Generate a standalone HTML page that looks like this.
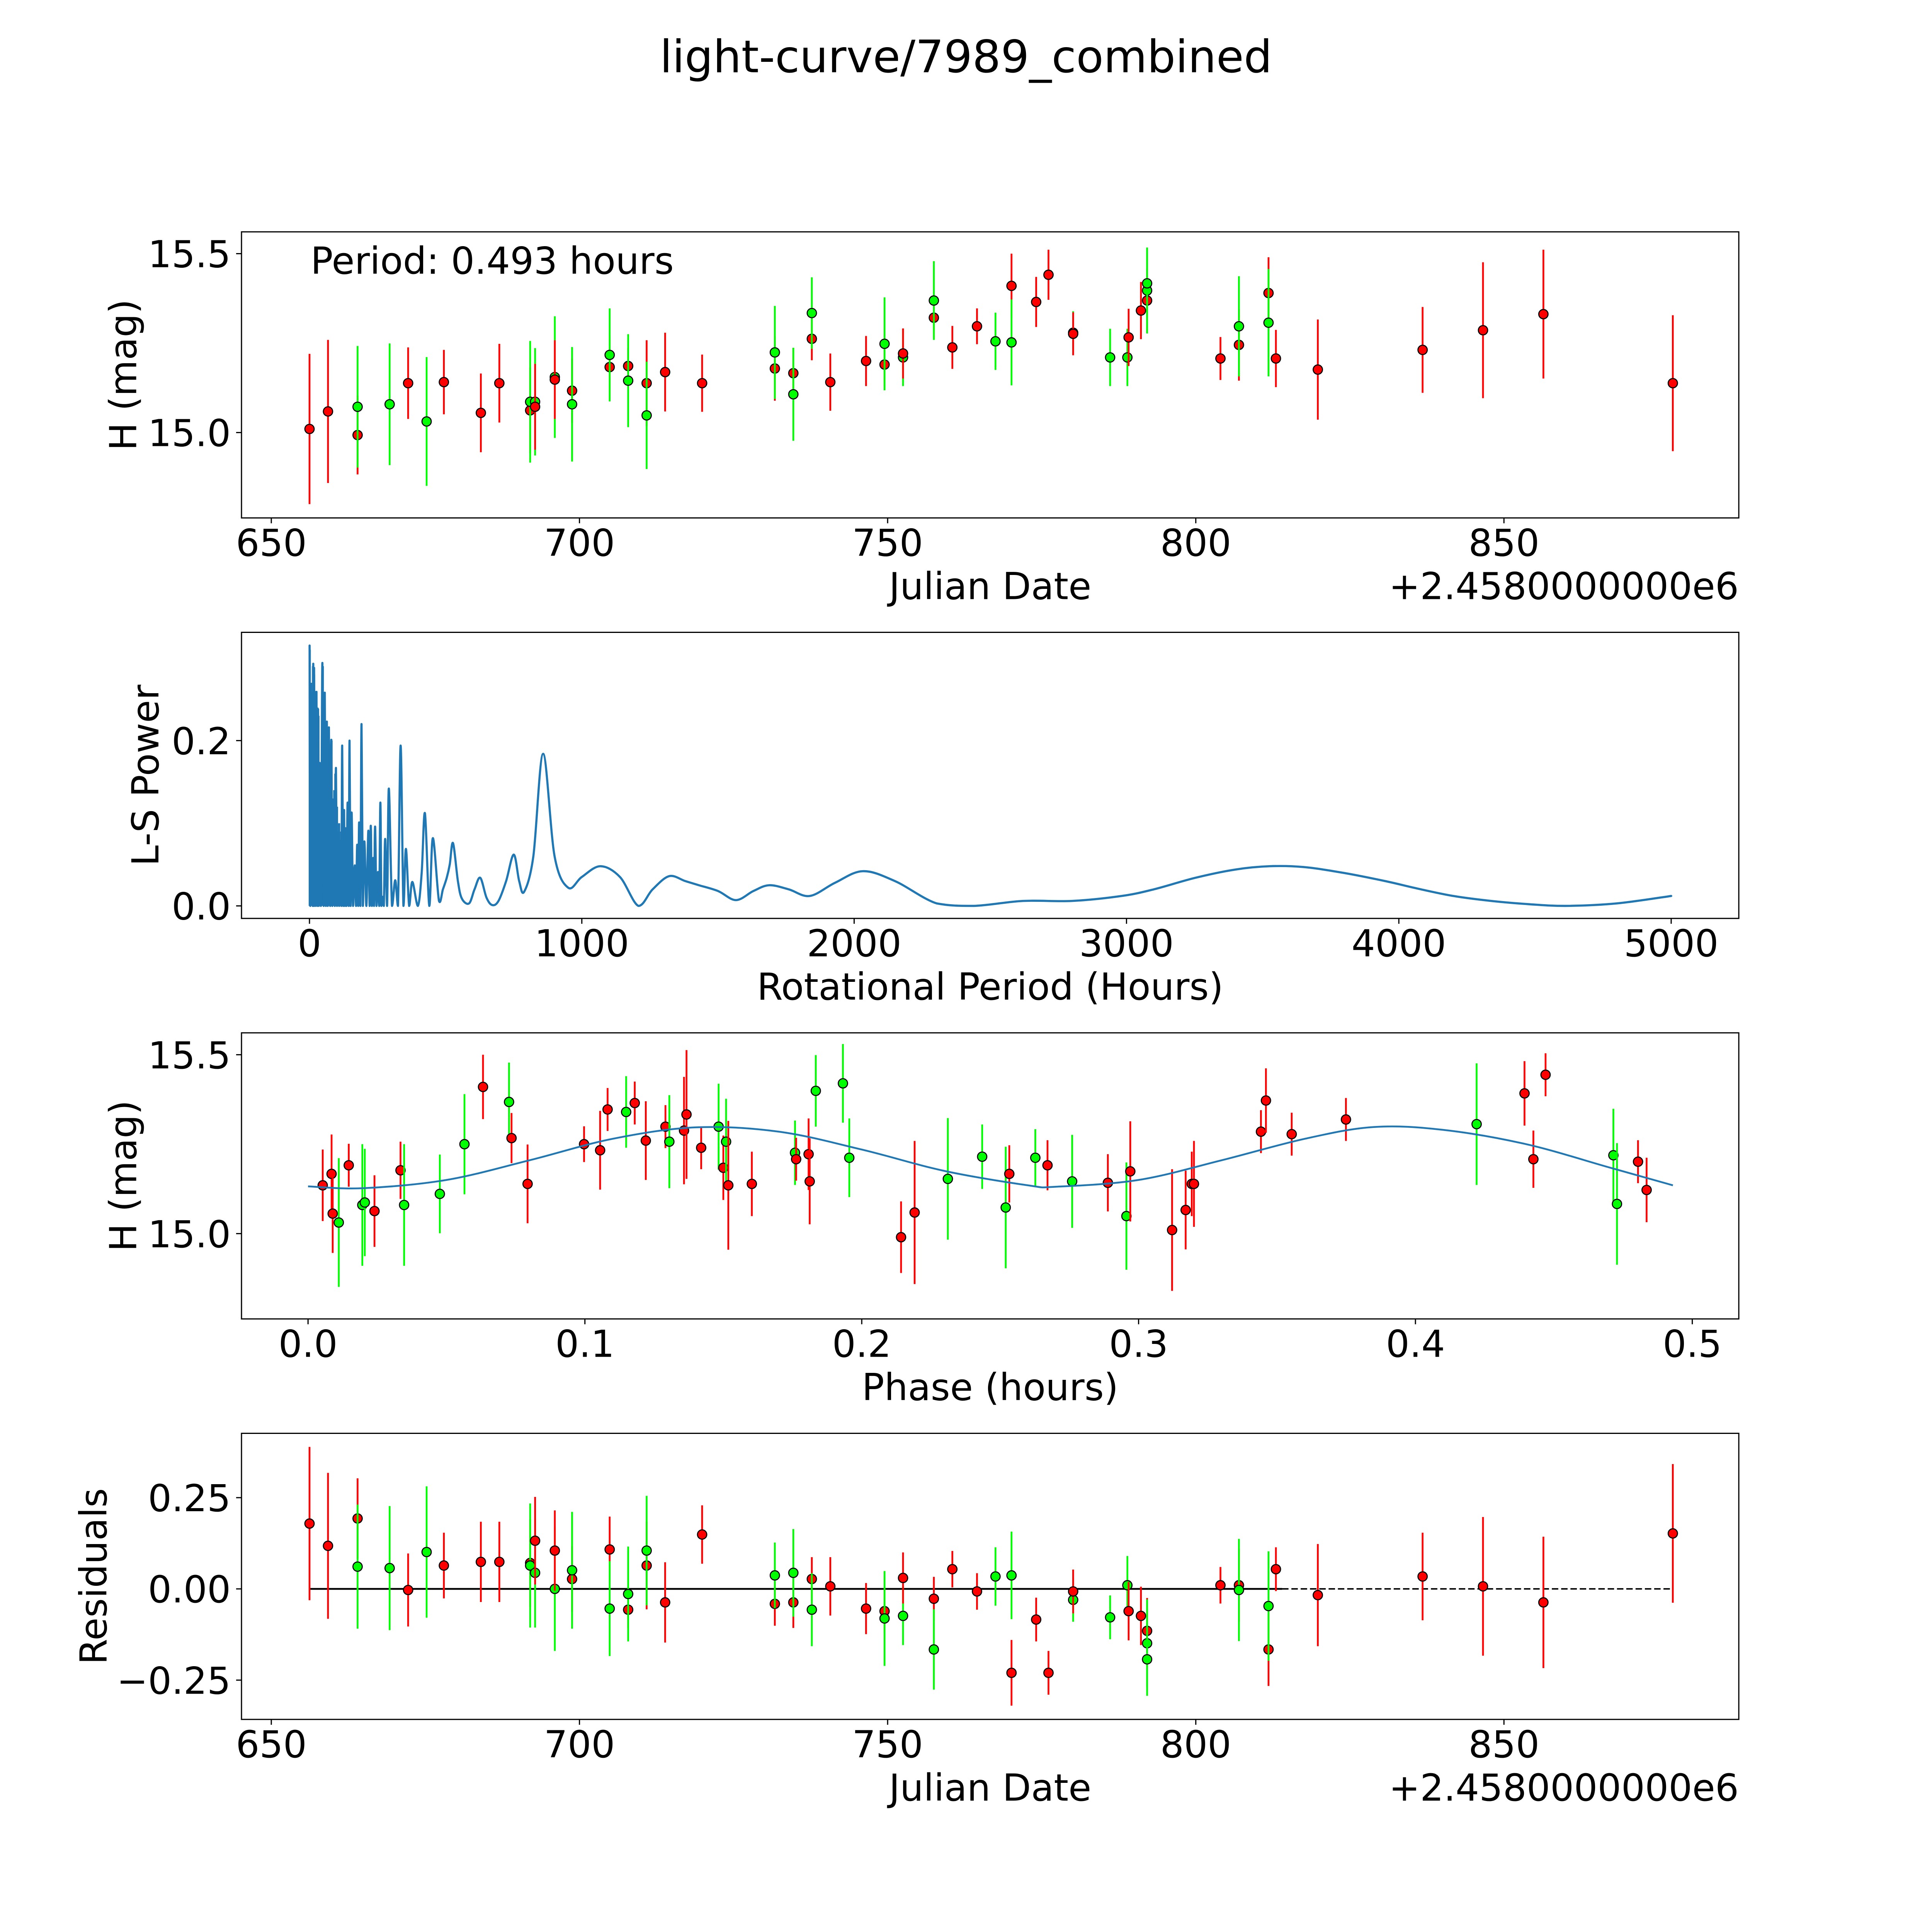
<!DOCTYPE html>
<html><head><meta charset="utf-8"><style>
html,body{margin:0;padding:0;background:#fff;overflow:hidden;width:100%;height:100%;}
svg{display:block;width:100vw;height:100vh;font-family:"DejaVu Sans","Liberation Sans",sans-serif;}
</style></head><body>
<svg id="fig" xmlns="http://www.w3.org/2000/svg" viewBox="0 0 5400 5400" preserveAspectRatio="xMidYMid meet">
<rect x="0" y="0" width="5400" height="5400" fill="#fff"/>
<text x="2700" y="202" font-size="125" text-anchor="middle">light-curve/7989_combined</text>
</svg>
<script>
// ---------- Panel 1 / 4 data (dates offset from 2458000) ----------
const dates = [656.2,659.2,664.0,664.0,669.2,672.2,675.2,678.0,684.0,687.0,692.0,692.0,692.8,692.8,696.0,696.0,698.8,698.8,704.9,704.9,707.9,707.9,710.9,710.9,713.9,719.9,731.7,731.7,734.7,734.7,737.7,737.7,740.7,746.5,749.5,749.5,752.5,752.5,757.5,757.5,760.5,764.5,767.5,770.1,770.1,774.1,776.1,780.1,780.1,786.1,788.9,789.1,791.1,792.1,792.1,792.1,804.0,807.0,807.0,811.8,811.8,813.0,819.8,836.8,846.6,856.4,877.4];
const mags = [15.010,15.059,14.993,15.072,15.079,15.138,15.031,15.141,15.055,15.138,15.062,15.086,15.086,15.072,15.155,15.148,15.117,15.079,15.183,15.217,15.186,15.145,15.138,15.048,15.169,15.138,15.179,15.224,15.166,15.107,15.262,15.334,15.141,15.200,15.190,15.248,15.210,15.221,15.321,15.369,15.238,15.297,15.255,15.410,15.252,15.365,15.441,15.279,15.276,15.210,15.210,15.266,15.341,15.369,15.397,15.417,15.207,15.245,15.297,15.390,15.307,15.207,15.176,15.231,15.286,15.331,15.138];
const errs = [0.21,0.20,0.11,0.17,0.17,0.10,0.18,0.09,0.11,0.11,0.12,0.17,0.15,0.12,0.17,0.11,0.09,0.16,0.09,0.13,0.05,0.13,0.12,0.15,0.11,0.08,0.09,0.13,0.07,0.13,0.06,0.10,0.08,0.07,0.06,0.13,0.08,0.07,0.06,0.11,0.06,0.05,0.08,0.09,0.12,0.07,0.07,0.06,0.06,0.08,0.08,0.08,0.08,0.09,0.12,0.10,0.06,0.10,0.14,0.10,0.15,0.08,0.14,0.12,0.19,0.18,0.19];
const filters = ['r','r','r','g','g','r','g','r','r','r','r','g','g','r','g','r','r','g','r','g','r','g','r','g','r','r','r','g','r','g','r','g','r','r','r','g','g','r','r','g','r','r','g','r','g','r','r','g','r','g','g','r','r','r','g','g','r','r','g','r','g','r','r','r','r','r','r'];
const residuals = [0.179,0.118,0.193,0.061,0.057,-0.003,0.101,0.064,0.074,0.074,0.071,0.064,0.044,0.132,0.0,0.105,0.027,0.051,0.108,-0.054,-0.057,-0.014,0.064,0.105,-0.037,0.149,-0.041,0.037,-0.037,0.044,0.027,-0.057,0.007,-0.054,-0.061,-0.081,-0.074,0.030,-0.027,-0.166,0.054,-0.007,0.034,-0.230,0.037,-0.084,-0.230,-0.030,-0.007,-0.078,0.010,-0.061,-0.074,-0.115,-0.149,-0.193,0.010,0.010,-0.003,-0.166,-0.047,0.054,-0.017,0.034,0.007,-0.037,0.152];
const residErrs = [0.21,0.20,0.11,0.17,0.17,0.10,0.18,0.09,0.11,0.11,0.12,0.17,0.15,0.12,0.17,0.11,0.09,0.16,0.09,0.13,0.05,0.13,0.12,0.15,0.11,0.08,0.06,0.09,0.07,0.12,0.06,0.10,0.08,0.07,0.06,0.13,0.08,0.07,0.06,0.11,0.05,0.05,0.08,0.09,0.12,0.06,0.06,0.06,0.06,0.06,0.08,0.08,0.08,0.09,0.12,0.10,0.05,0.10,0.14,0.10,0.15,0.06,0.14,0.12,0.19,0.18,0.19];
const zeroLineSolidEnd = 814;
// ---------- Panel 2 periodogram ----------
const lsPeriods = [0.4,3,9.8,12,13.9,15.4,16.9,21,25.7,28,31.5,34,37.4,42,47.4,52,56.2,60,63.8,67,71.4,76,80.2,84,88.4,93,97.2,101,104.8,109,113,117,120.1,124,127.1,130,132.4,136,140,144,147.1,151,154.7,160,166.4,171,175.2,179,182.3,187,191.1,196,201.6,209,216.3,221,225.1,229,233.9,237,240.9,246,251.5,256,260.3,264,267.9,273,277.9,285,291.4,303,314.8,325,334.7,345,354.1,366,377.6,398,412,424,440,453,475.5,490,504,515,527,545,559.4,586,606,627,650,671,694,722,750,770,788,822,858,900,950,1000,1068,1140,1208,1260,1321,1380,1430,1500,1566,1630,1688,1760,1837,1930,2032,2150,2303,2440,2620,2800,2982,3100,3253,3400,3525,3650,3796,3950,4068,4200,4339,4480,4611,4800,5000];
const lsPower = [0.315,0,0.257,0,0.293,0,0.288,0,0.259,0,0.238,0,0.173,0,0.294,0,0.258,0,0.223,0,0.216,0,0.201,0,0.109,0,0.167,0,0.075,0,0.077,0,0.194,0,0.116,0,0.094,0,0.125,0,0.200,0,0.113,0,0.049,0,0.074,0,0.101,0,0.220,0,0.078,0,0.091,0,0.097,0,0.058,0,0.096,0,0.041,0,0.125,0,0.011,0,0.081,0,0.142,0,0.031,0,0.194,0,0.069,0,0.029,0,0.04,0.112,0,0.082,0.006,0.02,0.034,0.05,0.076,0.03,0.009,0.003,0.02,0.034,0.01,0.001,0.006,0.03,0.062,0.03,0.017,0.06,0.184,0.06,0.022,0.035,0.048,0.035,0,0.02,0.036,0.03,0.025,0.018,0.007,0.018,0.025,0.02,0.012,0.028,0.042,0.03,0.003,0,0.006,0.006,0.012,0.02,0.034,0.044,0.048,0.047,0.040,0.03,0.021,0.012,0.006,0.002,0,0.003,0.012];
// dense low-period fill (periods, peak powers) — the tightly-packed aliasing region
const densePeriods = [1,3,5,7,9,11,13,15,17,19,21,23,25,27,29,31,33,35,37,39,41,43,45,47,49,51,53,55,57,59,61,63,65,67,69,71,73,75,77,79,81,83,85,87,89,91,93,95,97,99,101,103,105,107,109,111,113,115,117,119];
const densePower = [0.31,0.2,0.27,0.15,0.25,0.22,0.29,0.18,0.28,0.24,0.2,0.16,0.26,0.21,0.24,0.19,0.23,0.17,0.17,0.14,0.12,0.16,0.13,0.22,0.29,0.2,0.18,0.25,0.2,0.16,0.22,0.2,0.18,0.21,0.15,0.2,0.17,0.12,0.19,0.15,0.2,0.12,0.1,0.13,0.1,0.14,0.12,0.16,0.11,0.08,0.12,0.07,0.09,0.06,0.1,0.07,0.08,0.06,0.09,0.05];
// ---------- Panel 3 phase-folded ----------
const phases = [0.0053,0.0085,0.0089,0.0111,0.0147,0.0196,0.0205,0.024,0.0334,0.0347,0.0476,0.0565,0.0632,0.0726,0.0735,0.0793,0.0997,0.1055,0.1082,0.1149,0.118,0.122,0.1291,0.1305,0.1358,0.1367,0.142,0.1483,0.15,0.151,0.1518,0.1603,0.1759,0.1763,0.1808,0.1812,0.1834,0.1932,0.1955,0.2142,0.2191,0.2311,0.2435,0.252,0.2533,0.2627,0.2671,0.276,0.2889,0.2956,0.297,0.3121,0.317,0.3192,0.32,0.3442,0.346,0.3553,0.3749,0.4221,0.4394,0.4426,0.447,0.4715,0.4728,0.4804,0.4835];
const phaseMags = [15.135,15.167,15.056,15.031,15.191,15.080,15.087,15.063,15.177,15.080,15.111,15.250,15.410,15.368,15.267,15.139,15.250,15.233,15.347,15.340,15.365,15.260,15.299,15.257,15.288,15.333,15.240,15.299,15.184,15.257,15.135,15.139,15.226,15.208,15.222,15.146,15.399,15.420,15.212,14.990,15.059,15.153,15.215,15.073,15.167,15.212,15.191,15.146,15.142,15.049,15.174,15.010,15.066,15.139,15.139,15.285,15.372,15.278,15.319,15.306,15.392,15.208,15.444,15.219,15.083,15.201,15.122];
const phaseErrs = [0.10,0.11,0.11,0.18,0.06,0.17,0.15,0.10,0.08,0.17,0.11,0.14,0.09,0.11,0.07,0.11,0.05,0.11,0.06,0.10,0.06,0.11,0.06,0.13,0.15,0.18,0.06,0.12,0.09,0.12,0.18,0.09,0.09,0.06,0.10,0.12,0.10,0.11,0.11,0.10,0.20,0.17,0.09,0.17,0.08,0.08,0.07,0.13,0.08,0.15,0.14,0.17,0.11,0.09,0.12,0.06,0.09,0.06,0.06,0.17,0.09,0.08,0.06,0.13,0.17,0.06,0.09];
const phaseFilters = ['r','r','r','g','r','g','g','r','r','g','g','g','r','g','r','r','r','r','r','g','r','r','r','g','r','r','r','g','r','g','r','r','g','r','r','r','g','g','g','r','r','g','g','g','r','g','r','g','r','g','r','r','r','r','r','r','r','r','r','g','r','r','r','g','g','r','r'];
const modelPhase = [0,0.02,0.05,0.08,0.11,0.14,0.17,0.2,0.23,0.26,0.27,0.3,0.33,0.36,0.385,0.41,0.44,0.47,0.493];
const modelMag = [15.132,15.127,15.150,15.205,15.265,15.297,15.285,15.235,15.175,15.135,15.131,15.150,15.205,15.265,15.298,15.290,15.250,15.185,15.135];
const dateTicks = [650,700,750,800,850];
const magTicks = [15.0,15.5];
const magTickLabels = ['15.0','15.5'];
const lsXTicks = [0,1000,2000,3000,4000,5000];
const lsYTicks = [0.0,0.2];
const lsYTickLabels = ['0.0','0.2'];
const phaseTicks = [0.0,0.1,0.2,0.3,0.4,0.5];
const phaseTickLabels = ['0.0','0.1','0.2','0.3','0.4','0.5'];
const residTicks = [-0.25,0,0.25];
const residTickLabels = ['\u22120.25','0.00','0.25'];

const NS = 'http://www.w3.org/2000/svg';
const svg = document.getElementById('fig');
function mk(tag, attrs, parent){ const e=document.createElementNS(NS,tag); for(const k in attrs) e.setAttribute(k,attrs[k]); (parent||svg).appendChild(e); return e; }
const L=675, R=4860, AH=799.6;
const tops=[648,1767.4,2886.8,4006.2];
const FS=104;
const COL={r:'#ff0000',g:'#00ff00'};
function lin(d0,d1,p0,p1){ return v => p0+(v-d0)*(p1-p0)/(d1-d0); }

function axesFrame(top,name){
  const g=mk('g',{});
  
  
  const clip=mk('clipPath',{id:'clip-'+name},g);
  mk('rect',{x:L,y:top,width:R-L,height:AH},clip);
  const plot=mk('g',{'clip-path':'url(#clip-'+name+')'},g);
  
  
  return {g,plot,top,bottom:top+AH};
}
function spines(ax){
  const r=mk('rect',{x:L,y:ax.top,width:R-L,height:AH,fill:'none',stroke:'#000','stroke-width':3.3},ax.g);
  
  
}
function xTicks(ax,vals,labels,sx){
  vals.forEach((v,i)=>{
    const x=sx(v);
    const t=mk('line',{x1:x,x2:x,y1:ax.bottom,y2:ax.bottom+15,stroke:'#000','stroke-width':3.3},ax.g);
    
    
    const tx=mk('text',{x:x,y:ax.bottom+106,'font-size':FS,'text-anchor':'middle'},ax.g);
    tx.textContent=labels[i];
    
    
  });
}
function yTicks(ax,vals,labels,sy){
  vals.forEach((v,i)=>{
    const y=sy(v);
    const t=mk('line',{x1:L-15,x2:L,y1:y,y2:y,stroke:'#000','stroke-width':3.3},ax.g);
    
    
    const tx=mk('text',{x:L-30,y:y+38,'font-size':FS,'text-anchor':'end'},ax.g);
    tx.textContent=labels[i];
    
    
  });
}
function xLabel(ax,txt,name){
  const t=mk('text',{x:(L+R)/2,y:ax.bottom+227,'font-size':FS,'text-anchor':'middle'},ax.g);
  t.textContent=txt;
  
  
}
function yLabel(ax,txt,cx,name){
  const cy=ax.top+AH/2;
  const t=mk('text',{x:cx,y:cy,'font-size':FS,'text-anchor':'middle','dominant-baseline':'central',transform:'rotate(-90 '+cx+' '+cy+')'},ax.g);
  t.textContent=txt;
  
  
}
function offsetText(ax){
  const t=mk('text',{x:R,y:ax.bottom+227,'font-size':FS,'text-anchor':'end'},ax.g);
  t.textContent='+2.4580000000e6';
  
  
}
function errPoint(parent,x,y,yTop,yBot,c){
  const b=mk('line',{x1:x,x2:x,y1:yTop,y2:yBot,stroke:COL[c],'stroke-width':5},parent);
  
  
  const p=mk('circle',{cx:x,cy:y,r:13,fill:COL[c],stroke:'#000','stroke-width':3},parent);
  
  
}
function smoothPath(pts,yMax){
  let d='M'+pts[0][0]+','+pts[0][1];
  for(let i=0;i<pts.length-1;i++){
    const p0=pts[Math.max(0,i-1)],p1=pts[i],p2=pts[i+1],p3=pts[Math.min(pts.length-1,i+2)];
    let c1x=p1[0]+(p2[0]-p0[0])/6, c1y=p1[1]+(p2[1]-p0[1])/6;
    let c2x=p2[0]-(p3[0]-p1[0])/6, c2y=p2[1]-(p3[1]-p1[1])/6;
    c1x=Math.min(Math.max(c1x,p1[0]),p2[0]); c2x=Math.min(Math.max(c2x,p1[0]),p2[0]);
    if(yMax!==undefined){ c1y=Math.min(c1y,yMax); c2y=Math.min(c2y,yMax); }
    d+=' C'+c1x+','+c1y+' '+c2x+','+c2y+' '+p2[0]+','+p2[1];
  }
  return d;
}

// ---------- Panel 1 ----------
const sxDate=lin(650,850,758.3,4203.6);
const sMag1=lin(15.0,15.5,1209,709);
const ax1=axesFrame(tops[0],'light-curve-axes');
dates.forEach((d,i)=>{
  errPoint(ax1.plot,sxDate(d),sMag1(mags[i]),sMag1(mags[i]+errs[i]),sMag1(mags[i]-errs[i]),filters[i]);
});
const per=mk('text',{x:868,y:765,'font-size':FS},ax1.g);
per.textContent='Period: 0.493 hours';


spines(ax1);
xTicks(ax1,dateTicks,dateTicks.map(String),sxDate);
yTicks(ax1,magTicks,magTickLabels,sMag1);
xLabel(ax1,'Julian Date','x-axis-title');
offsetText(ax1);
yLabel(ax1,'H (mag)',345,'y-axis-title');

// ---------- Panel 2 ----------
const sxP=lin(0,5000,865,4671);
const syP=lin(0,0.2,2532,2070);
const ax2=axesFrame(tops[1],'periodogram-axes');
let dd='';
densePeriods.forEach((p,i)=>{
  const x=sxP(p);
  dd+='M'+x+','+syP(0)+' L'+x+','+syP(densePower[i])+' ';
});
const dense=mk('path',{d:dd,fill:'none',stroke:'#1f77b4','stroke-width':6},ax2.plot);


const lsPts=lsPeriods.map((p,i)=>[sxP(p),syP(lsPower[i])]);
const lsLine=mk('path',{d:smoothPath(lsPts,syP(0)),fill:'none',stroke:'#1f77b4','stroke-width':6,'stroke-linejoin':'round','stroke-linecap':'round'},ax2.plot);


spines(ax2);
xTicks(ax2,lsXTicks,lsXTicks.map(String),sxP);
yTicks(ax2,lsYTicks,lsYTickLabels,syP);
xLabel(ax2,'Rotational Period (Hours)','x-axis-title');
yLabel(ax2,'L-S Power',407,'y-axis-title');

// ---------- Panel 3 ----------
const sxPh=lin(0,0.5,861,4730);
const sMag3=lin(15.0,15.5,3448,2948);
const ax3=axesFrame(tops[2],'phase-axes');
phases.forEach((p,i)=>{
  errPoint(ax3.plot,sxPh(p),sMag3(phaseMags[i]),sMag3(phaseMags[i]+phaseErrs[i]),sMag3(phaseMags[i]-phaseErrs[i]),phaseFilters[i]);
});
const mPts=modelPhase.map((p,i)=>[sxPh(p),sMag3(modelMag[i])]);
const model=mk('path',{d:smoothPath(mPts),fill:'none',stroke:'#1f77b4','stroke-width':5},ax3.plot);


spines(ax3);
xTicks(ax3,phaseTicks,phaseTickLabels,sxPh);
yTicks(ax3,magTicks,magTickLabels,sMag3);
xLabel(ax3,'Phase (hours)','x-axis-title');
yLabel(ax3,'H (mag)',345,'y-axis-title');

// ---------- Panel 4 ----------
const syR=lin(0,0.25,4441,4186);
const ax4=axesFrame(tops[3],'residuals-axes');
const z0=mk('line',{x1:sxDate(dates[0]),x2:sxDate(zeroLineSolidEnd),y1:syR(0),y2:syR(0),stroke:'#000','stroke-width':5},ax4.plot);


const z1=mk('line',{x1:sxDate(zeroLineSolidEnd),x2:sxDate(dates[dates.length-1]),y1:syR(0),y2:syR(0),stroke:'#000','stroke-width':4,'stroke-dasharray':'18,8'},ax4.plot);


dates.forEach((d,i)=>{
  errPoint(ax4.plot,sxDate(d),syR(residuals[i]),syR(residuals[i]+residErrs[i]),syR(residuals[i]-residErrs[i]),filters[i]);
});
spines(ax4);
xTicks(ax4,dateTicks,dateTicks.map(String),sxDate);
yTicks(ax4,residTicks,residTickLabels,syR);
xLabel(ax4,'Julian Date','x-axis-title');
offsetText(ax4);
yLabel(ax4,'Residuals',262,'y-axis-title');
</script>
</body></html>
